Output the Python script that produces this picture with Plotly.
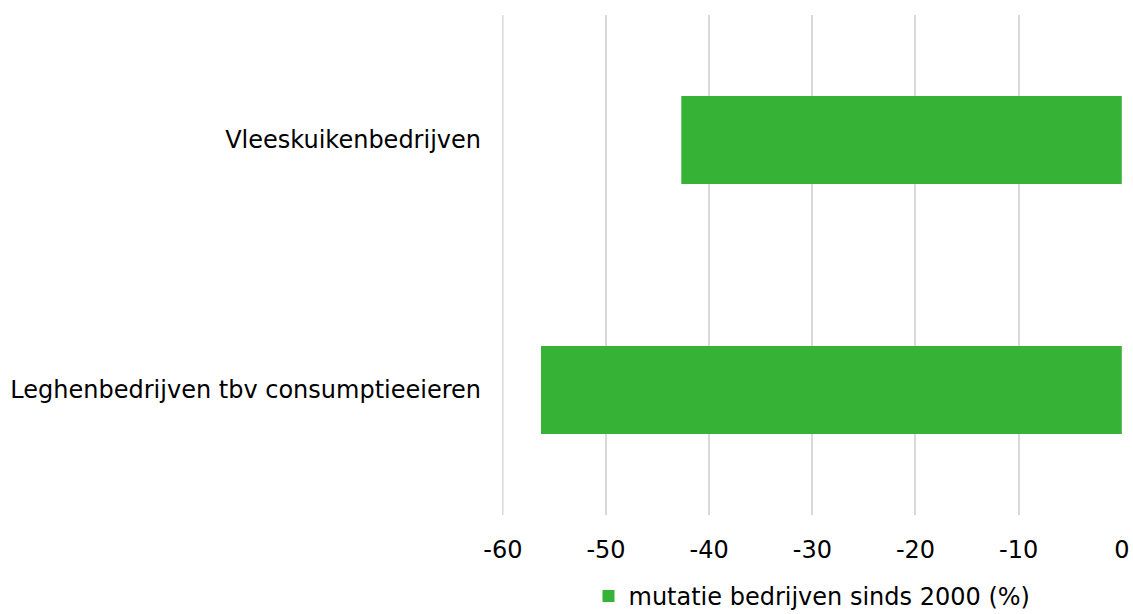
import plotly.graph_objects as go

categories = ["Leghenbedrijven tbv consumptieeieren", "Vleeskuikenbedrijven"]
values = [-56.3, -42.7]
series_name = "mutatie bedrijven sinds 2000 (%)"
x_ticks = [-60, -50, -40, -30, -20, -10, 0]

fig = go.Figure()
fig.add_trace(go.Bar(
    y=categories, x=values, orientation="h", name=series_name,
    marker=dict(color="#36b236", line=dict(width=0)),
    showlegend=True,
))

# gridline at the left edge of the range (plotly omits edge gridlines)
fig.add_shape(type="line", xref="x", yref="paper", x0=x_ticks[0], x1=x_ticks[0],
              y0=0, y1=1, line=dict(color="#d9d9d9", width=1.5), layer="below")

font_family = "DejaVu Sans, Verdana, sans-serif"
fig.update_layout(
    width=1133, height=614,
    margin=dict(l=502, r=11, t=15, b=99, autoexpand=False),
    paper_bgcolor="white", plot_bgcolor="white",
    font=dict(family=font_family, size=24, color="#000000"),
    bargap=0.648,
    showlegend=True,
    legend=dict(orientation="h", x=0.5, xanchor="center", y=-0.118, yanchor="top",
                font=dict(size=24), itemsizing="constant", traceorder="normal",
                itemwidth=30),
    xaxis=dict(range=[-60.08, 0.02], tickvals=x_ticks, ticktext=[str(t) for t in x_ticks],
               showgrid=True, gridcolor="#d9d9d9", gridwidth=1.5, automargin=False,
               zeroline=False, showline=False, ticks="", ticklabelstandoff=18),
    yaxis=dict(categoryorder="array", categoryarray=categories, automargin=False,
               showgrid=False, zeroline=False, showline=False, ticks="",
               ticklabelstandoff=20),
)

fig.write_html("out.html")
